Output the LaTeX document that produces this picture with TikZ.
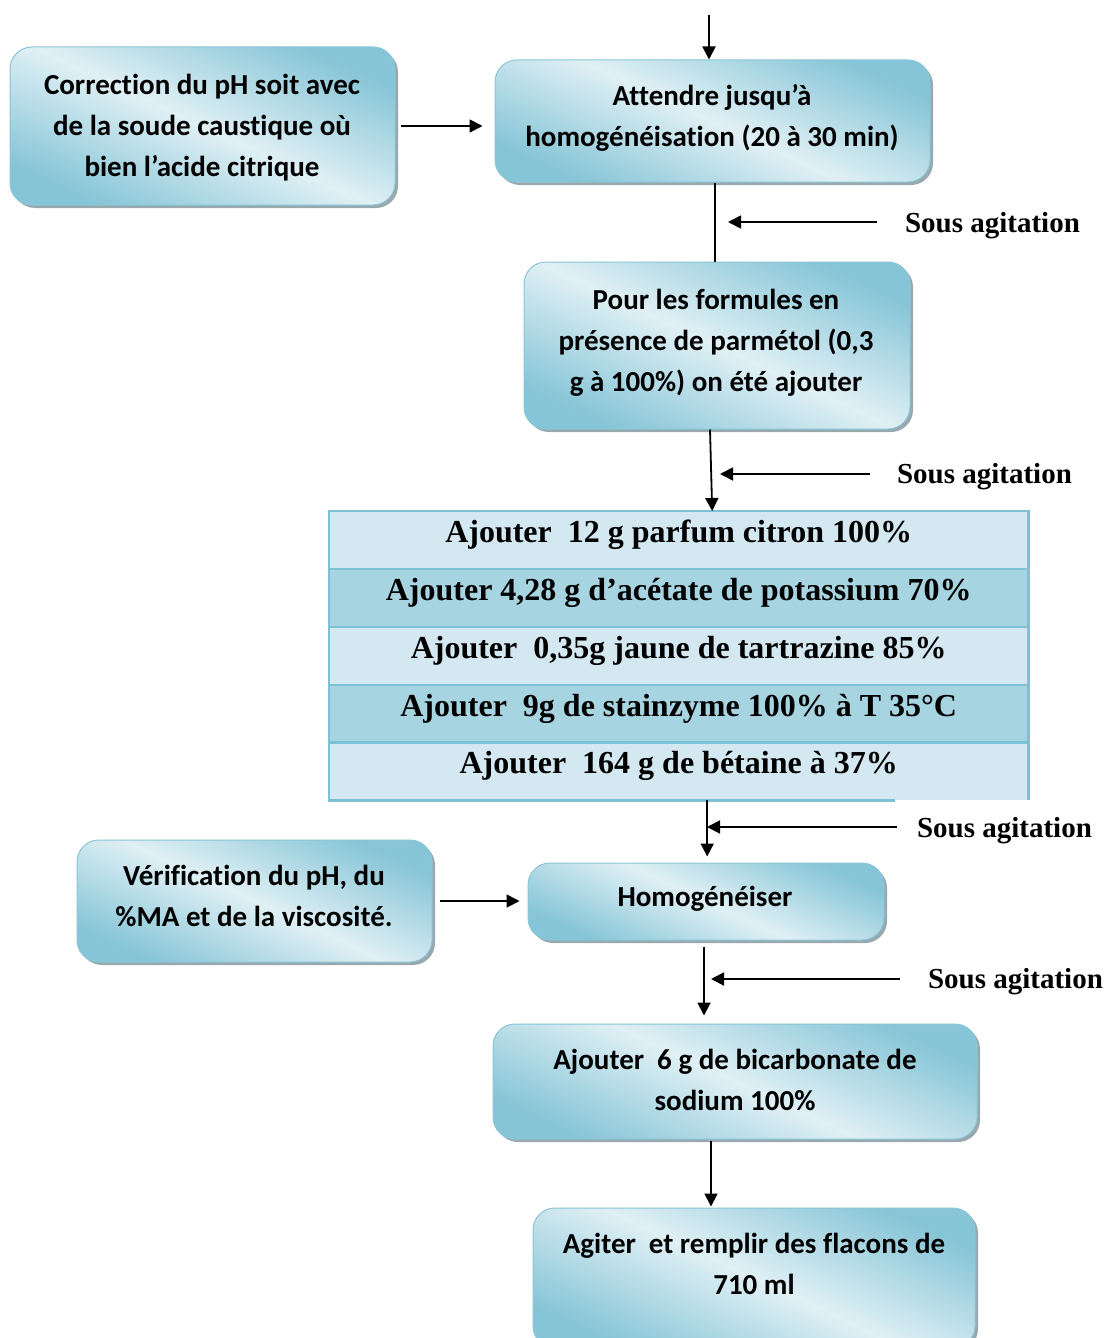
\documentclass[tikz,border=0pt]{standalone}
\usepackage{fontspec}
\usetikzlibrary{shadows,arrows.meta}
\newfontfamily\calb{Carlito}[Ligatures={NoCommon}]
\newfontfamily\tnr{Liberation Serif}
\definecolor{boxdark}{HTML}{86C5D7}
\definecolor{boxlight}{HTML}{E0F0F5}
\definecolor{boxedge}{HTML}{8CC5D6}
\definecolor{shadowgray}{HTML}{97A9AE}
\definecolor{rowlight}{HTML}{D3E8F0}
\definecolor{rowdark}{HTML}{A6D4E1}
\definecolor{tabedge}{HTML}{7DC2D4}
\tikzset{
  bx/.style={rounded corners=22pt, draw=boxedge, line width=1pt,
    top color=boxdark, bottom color=boxdark, middle color=boxlight, shading angle=-25,
    drop shadow={shadow xshift=3pt, shadow yshift=-3pt, fill=shadowgray, opacity=1},
    inner sep=0pt},
  bt/.style={align=center, inner sep=0pt, font=\calb\bfseries\fontsize{29}{41}\selectfont},
  rowbox/.style={anchor=north west, minimum width=699pt, minimum height=57.8pt, inner sep=0pt,
    text height=22pt, text depth=17pt, font=\tnr\bfseries\fontsize{32}{38}\selectfont},
  lab/.style={inner sep=0pt, font=\tnr\bfseries\fontsize{29}{34}\selectfont},
  arr/.style={line width=1.8pt, -{Triangle[length=13pt,width=13pt]}},
  ln/.style={line width=1.8pt}
}
\begin{document}
\begin{tikzpicture}[x=1pt,y=-1pt]
\useasboundingbox (0,0) rectangle (1108,1338);
\clip (0,0) rectangle (1108,1338);
% boxes
\node[bx, minimum width=385pt, minimum height=158pt] (corr) at (202.5,126) {};
\node[bt] (corrT) at (202,128) {Correction du pH soit avec\\de la soude caustique où\\bien l’acide citrique};
\node[bx, minimum width=435pt, minimum height=122pt] (att) at (712.5,121) {};
\node[bt] (attT) at (712,117.5) {Attendre jusqu’à\\homogénéisation (20 à 30 min)};
\node[bx, minimum width=386pt, minimum height=167pt] (pour) at (717,345.5) {};
\node[bt] (pourT) at (716,343) {Pour les formules en\\présence de parmétol (0,3\\g à 100\%) on été ajouter};
\node[bx, minimum width=355pt, minimum height=122pt] (verif) at (254.5,901) {};
\node[bt] (verifT) at (254,896) {Vérification du pH, du\\\%MA et de la viscosité.};
\node[bx, minimum width=356pt, minimum height=77pt] (hom) at (706,901.5) {};
\node[bt] (homT) at (705,899) {Homogénéiser};
\node[bx, minimum width=484pt, minimum height=115pt] (bic) at (735,1081.5) {};
\node[bt] (bicT) at (735,1080) {Ajouter\ \ 6 g de bicarbonate de\\sodium 100\%};
\node[bx, minimum width=442pt, minimum height=140pt] (agit) at (754,1278) {};
\node[bt] (agitT) at (754,1264) {Agiter\ \ et remplir des flacons de\\710 ml};
% table
\node[rowbox, fill=rowlight] (r1) at (329,511) {Ajouter\ \ 12 g parfum citron 100\%};
\node[rowbox, fill=rowdark] (r2) at (329,568.8) {Ajouter 4,28 g d’acétate de potassium 70\%};
\node[rowbox, fill=rowlight] (r3) at (329,626.6) {Ajouter\ \ 0,35g jaune de tartrazine 85\%};
\node[rowbox, fill=rowdark] (r4) at (329,684.4) {Ajouter\ \ 9g de stainzyme 100\% à T 35°C};
\node[rowbox, fill=rowlight] (r5) at (329,742.2) {Ajouter\ \ 164 g de bétaine à 37\%};
\foreach \r in {r1,r2,r3,r4}{
  \draw[tabedge, line width=2.5pt] (\r.south west) -- (\r.south east);
}
\draw[tabedge, line width=2.5pt] ([xshift=-133pt]r5.south east) -- (r5.south west) -- (r1.north west) -- (r1.north east) -- (r5.south east);
% labels
\node[lab] (s1) at (992.5,226) {Sous agitation};
\node[lab] (s2) at (984.5,477) {Sous agitation};
\node[lab] (s3) at (1004.5,831) {Sous agitation};
\node[lab] (s4) at (1015.5,982) {Sous agitation};
% free ends
\coordinate (t0) at (709,15);
\coordinate (k1) at (728,222);
\coordinate (k2) at (720,474);
\coordinate (k3) at (707,827);
\coordinate (k4) at (711,979);
% connectors
\draw[arr] (t0) -- (t0 |- att.north);
\draw[arr, shorten <=5pt, shorten >=12pt] (corr.east) -- (att.west |- corr.east);
\draw[ln] ([xshift=2.5pt]att.south) -- ([xshift=2.5pt]att.south |- pour.north);
\draw[arr, shorten <=28pt] (s1.west |- k1) -- (k1);
\draw[arr] ([xshift=-7pt]pour.south) -- ([xshift=33.5pt]r1.north);
\draw[arr, shorten <=27pt] (s2.west |- k2) -- (k2);
\draw[arr, shorten >=6pt] ([xshift=28.5pt]r5.south) -- ([xshift=28.5pt]r5.south |- hom.north);
\draw[arr, shorten <=20pt] (s3.west |- k3) -- (k3);
\draw[arr, shorten <=7pt, shorten >=8pt] (verif.east) -- (hom.west |- verif.east);
\draw[arr, shorten <=6pt, shorten >=8pt] ([xshift=-2pt]hom.south) -- ([xshift=-2pt]hom.south |- bic.north);
\draw[arr, shorten <=28pt] (s4.west |- k4) -- (k4);
\draw[arr, shorten <=1pt, shorten >=1pt] ([xshift=-24pt]bic.south) -- ([xshift=-24pt]bic.south |- agit.north);
\end{tikzpicture}
\end{document}
